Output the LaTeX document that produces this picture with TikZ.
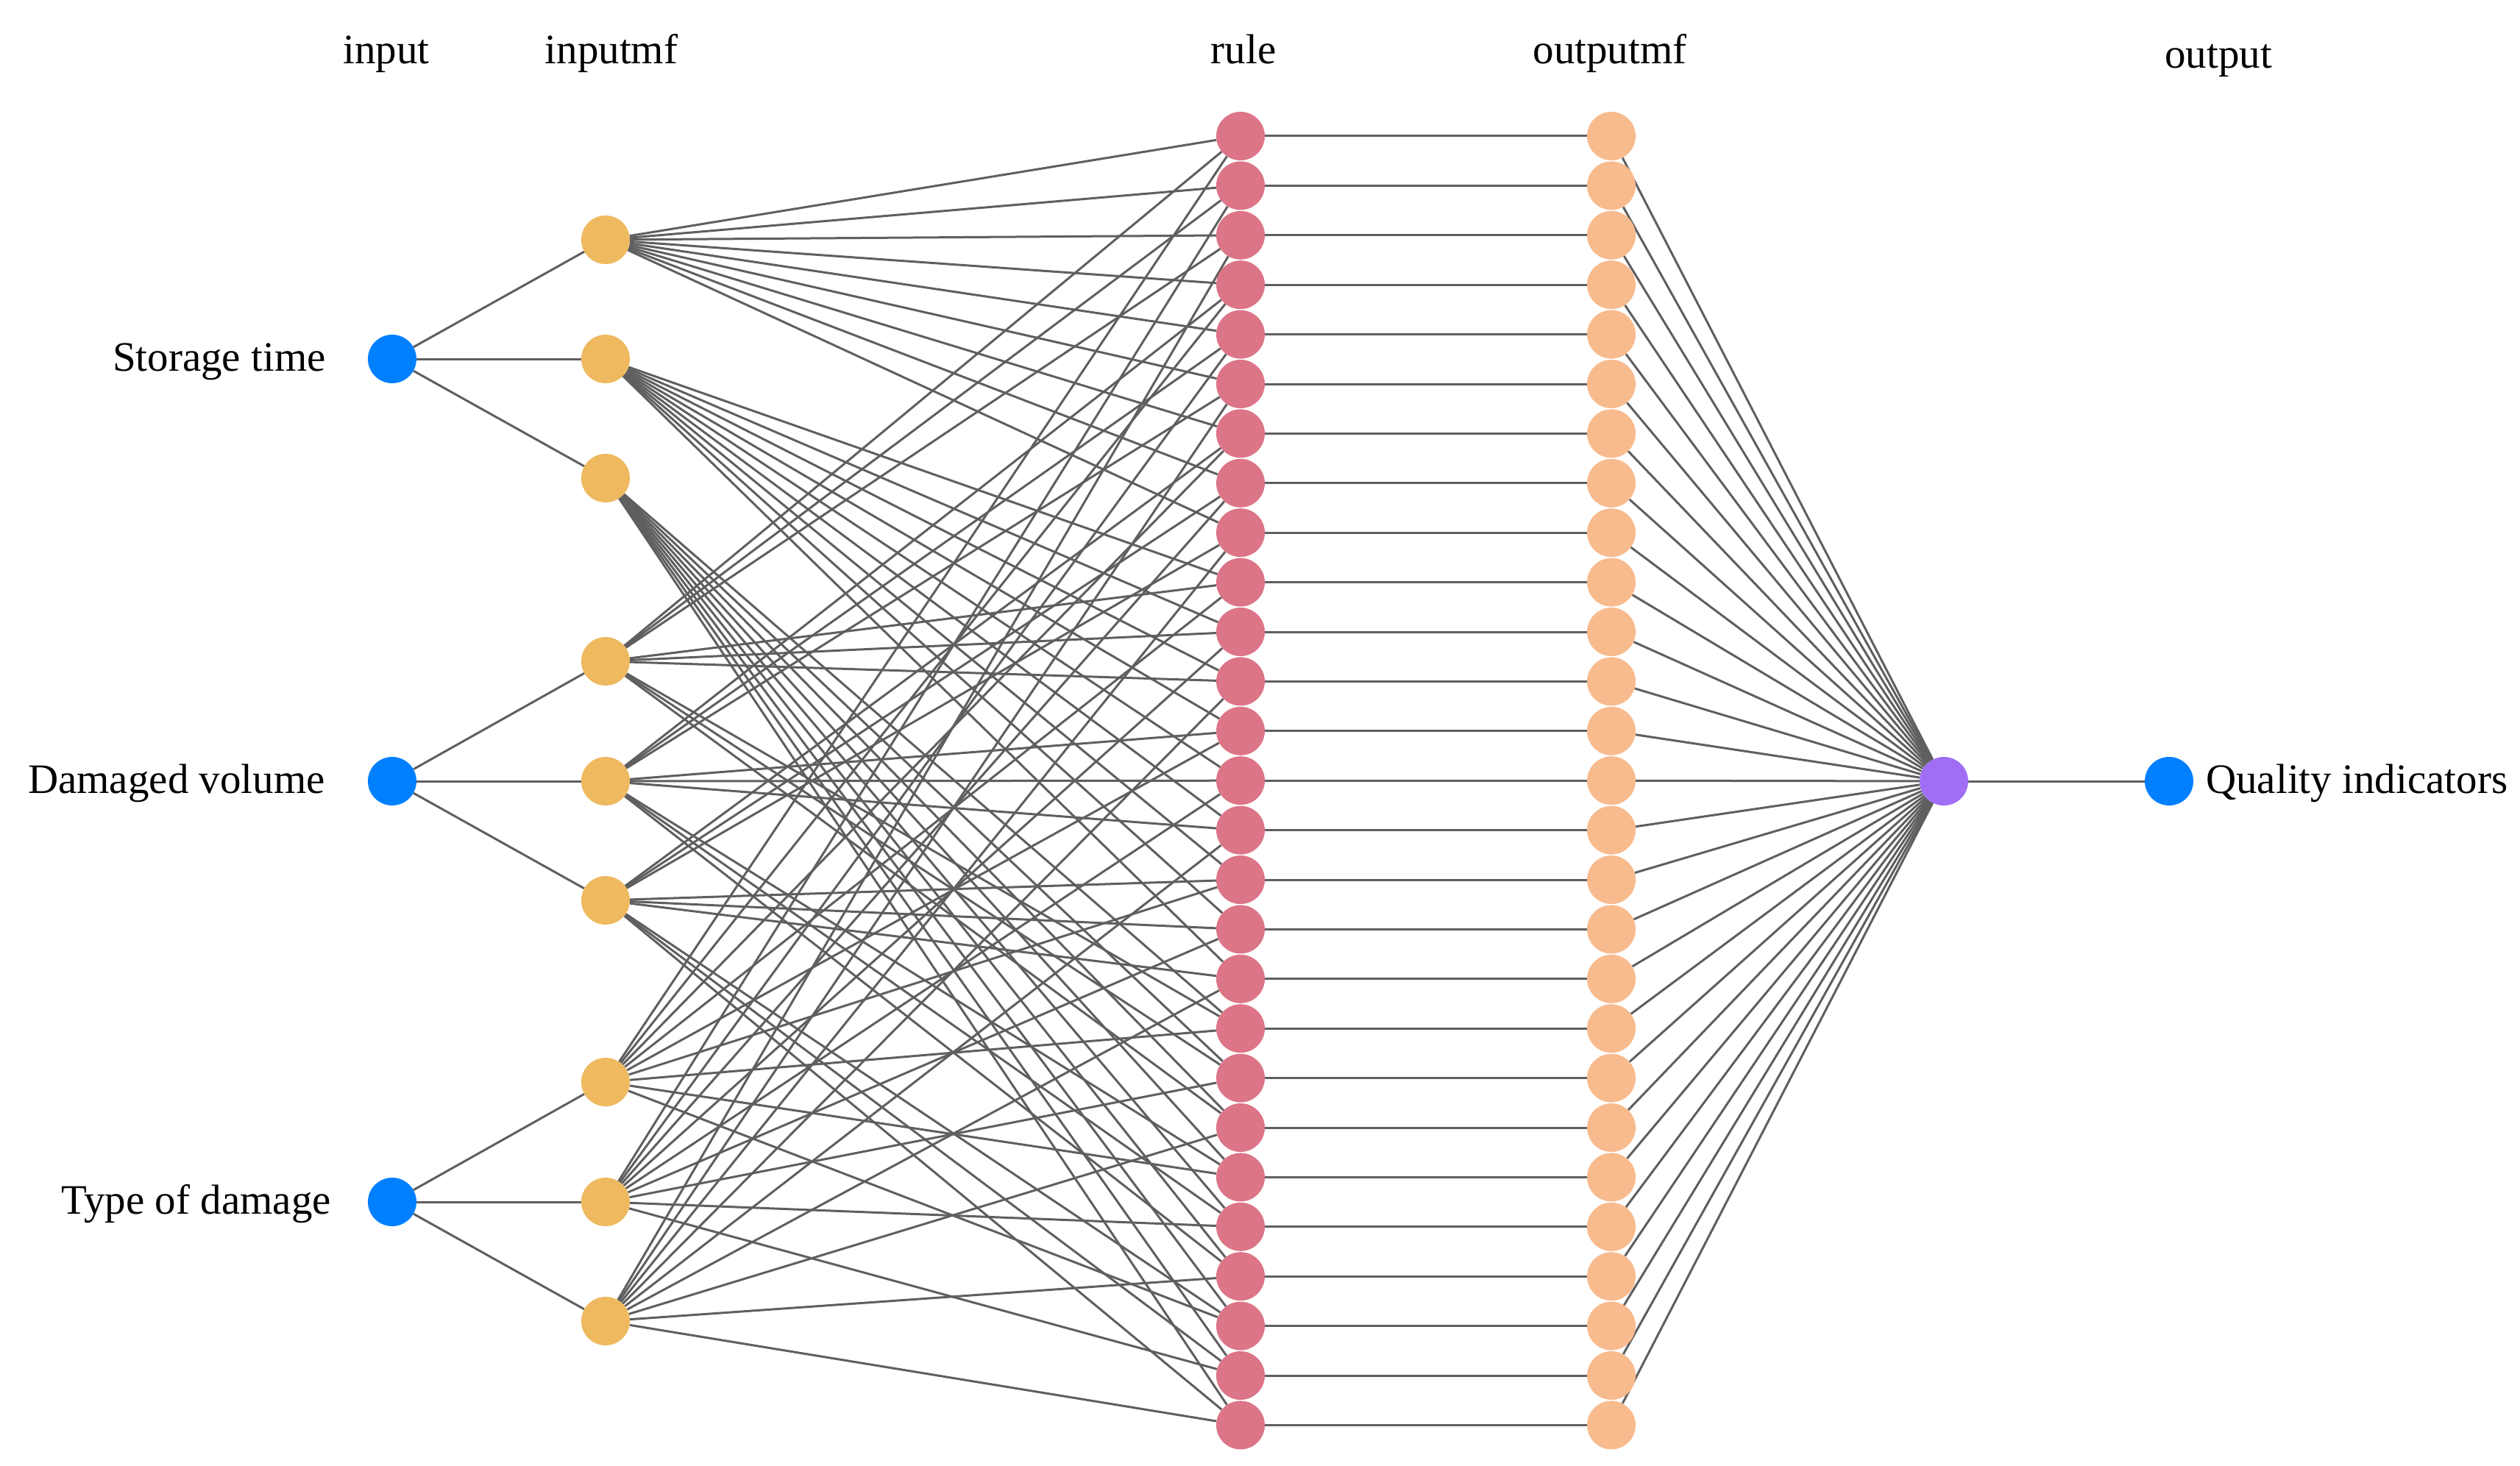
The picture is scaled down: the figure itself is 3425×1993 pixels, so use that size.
\documentclass[tikz,border=0pt]{standalone}
\usepackage{fontspec}
\setmainfont{Liberation Serif}
\pgfdeclarelayer{bg}
\pgfsetlayers{bg,main}
\definecolor{inblue}{RGB}{0,128,255}
\definecolor{mfyel}{RGB}{238,185,95}
\definecolor{rulepink}{RGB}{220,117,135}
\definecolor{outpeach}{RGB}{248,187,142}
\definecolor{outpurple}{RGB}{160,110,245}
\definecolor{linegray}{RGB}{95,95,95}
\begin{document}
\begin{tikzpicture}[x=1pt,y=-1pt,
  nd/.style={circle,minimum size=66pt,inner sep=0pt,draw=none},
  conn/.style={draw=linegray,line width=3pt},
  lbl/.style={font=\fontsize{57pt}{60pt}\selectfont,inner sep=0pt}]
\useasboundingbox (0,0) rectangle (3425,1993);
% headers
\node[lbl,anchor=base] (hin) at (525,87) {input};
\node[lbl,anchor=base] (hmf) at (831,87) {inputmf};
\node[lbl,anchor=base] (hrule) at (1690,87) {rule};
\node[lbl,anchor=base] (hout) at (2188,87) {outputmf};
\node[lbl,anchor=base] (houtput) at (3015,93) {output};
% inputs
\node[nd,fill=inblue] (in1) at (533,488) {};
\node[nd,fill=inblue] (in2) at (533,1062) {};
\node[nd,fill=inblue] (in3) at (533,1634) {};
\node[lbl,anchor=base east] (l1) at (443,504) {Storage time};
\node[lbl,anchor=base east] (l2) at (442,1078) {Damaged volume};
\node[lbl,anchor=base east] (l3) at (450,1650) {Type of damage};
% input mfs
\node[nd,fill=mfyel] (m1-0) at (823,326) {};
\node[nd,fill=mfyel] (m1-1) at (823,488) {};
\node[nd,fill=mfyel] (m1-2) at (823,650) {};
\node[nd,fill=mfyel] (m2-0) at (823,899) {};
\node[nd,fill=mfyel] (m2-1) at (823,1062) {};
\node[nd,fill=mfyel] (m2-2) at (823,1224) {};
\node[nd,fill=mfyel] (m3-0) at (823,1471) {};
\node[nd,fill=mfyel] (m3-1) at (823,1634) {};
\node[nd,fill=mfyel] (m3-2) at (823,1796) {};
% rules and output mfs
\foreach \k in {0,...,26} {
  \node[nd,fill=rulepink] (r\k) at (1686,185+67.4*\k) {};
  \node[nd,fill=outpeach] (o\k) at (2190,185+67.4*\k) {};
}
\node[nd,fill=outpurple] (sum) at (2642,1062) {};
\node[nd,fill=inblue] (fin) at (2948,1062) {};
\node[lbl,anchor=base west] (lq) at (2998,1078) {Quality indicators};
% connectors
\begin{pgfonlayer}{bg}
\foreach \n in {1,2,3} {
  \foreach \m in {0,1,2} {
    \draw[conn] (in\n) -- (m\n-\m);
  }
}
\foreach \k in {0,...,26} {
  \pgfmathtruncatemacro{\ia}{floor(\k/9)}
  \pgfmathtruncatemacro{\ib}{mod(floor(\k/3),3)}
  \pgfmathtruncatemacro{\ic}{mod(\k,3)}
  \draw[conn] (m1-\ia) -- (r\k);
  \draw[conn] (m2-\ib) -- (r\k);
  \draw[conn] (m3-\ic) -- (r\k);
  \draw[conn] (r\k) -- (o\k);
  \draw[conn] (o\k) -- (sum);
}
\draw[conn] (sum) -- (fin);
\end{pgfonlayer}
\end{tikzpicture}
\end{document}
